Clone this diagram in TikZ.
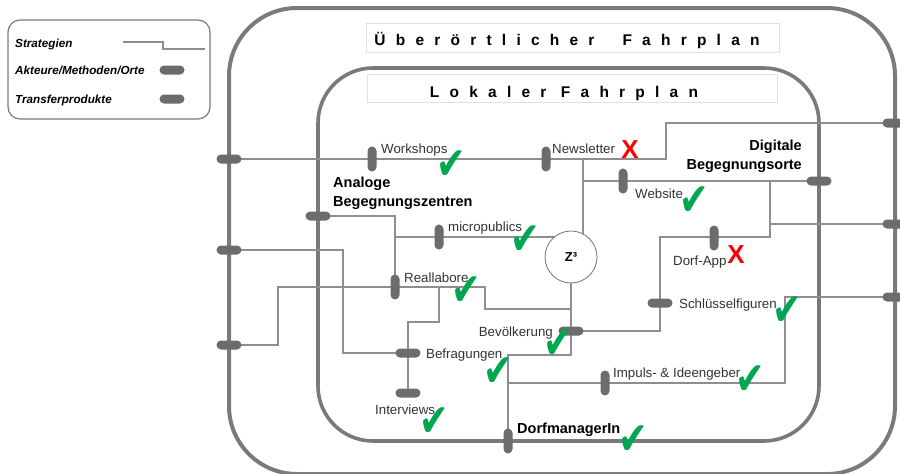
\documentclass[tikz,border=0pt]{standalone}
\usepackage{fontspec}
\setmainfont{Liberation Sans}
\newfontfamily\symfont{DejaVu Sans}
\newfontfamily\spacedfont[LetterSpace=66]{Liberation Sans}
\usetikzlibrary{backgrounds}

\definecolor{linegray}{HTML}{8E8E8E}
\definecolor{framegray}{HTML}{7A7A7A}
\definecolor{pillgray}{HTML}{6C6C6C}
\definecolor{labelgray}{HTML}{333333}
\definecolor{okgreen}{RGB}{0,166,81}
\definecolor{nored}{RGB}{250,0,0}

\newcommand{\haken}{\scalebox{0.93}[1.2]{✔}}

\tikzset{
  strat/.style={linegray, line width=2.2pt},
  outerframe/.style={framegray, line width=4pt, rounded corners=68pt},
  innerframe/.style={framegray, line width=3.6pt, rounded corners=55pt},
  hpill/.style={fill=pillgray, rectangle, rounded corners=4.5pt, minimum width=25pt, minimum height=9pt, inner sep=0pt},
  vpill/.style={hpill, minimum width=9pt, minimum height=25pt},
  lbl/.style={anchor=base west, inner sep=0pt, text=labelgray, font=\fontsize{13.3}{15}\selectfont},
  ortlbl/.style={inner sep=0pt, font=\fontsize{14.5}{19}\selectfont\bfseries},
  titlebox/.style={draw=black!12, fill=white, line width=0.8pt, inner sep=0pt, text depth=0pt,
    font=\spacedfont\fontsize{15.5}{17}\selectfont\bfseries},
  chk/.style={text=okgreen, inner sep=0pt, font=\symfont\fontsize{38}{38}\selectfont},
  nix/.style={text=nored, inner sep=0pt, font=\fontsize{26}{26}\selectfont\bfseries},
  legtxt/.style={anchor=base west, inner sep=0pt, font=\fontsize{11.7}{13}\selectfont\bfseries\itshape},
}

\begin{document}
\begin{tikzpicture}[x=1pt, y=-1pt]
\useasboundingbox (0,0) rectangle (900,474);

% Legende
\draw[framegray, line width=1.2pt, rounded corners=12pt] (8,20) rectangle (210,119);
\node[legtxt] (leg-str) at (15,47) {Strategien};
\node[legtxt] (leg-akt) at (15,74) {Akteure/Methoden/Orte};
\node[legtxt] (leg-tp) at (15,103) {Transferprodukte};
\node[hpill] (leg-p1) at (172,70) {};
\node[hpill] (leg-p2) at (172,99) {};
\coordinate (leg-s) at (123,42);
\coordinate (leg-e) at (205,49);
\draw[linegray, line width=1.5pt] (leg-s) -- ++(40,0) |- (leg-e);

% Fahrplan-Titel
\node[titlebox, minimum width=413pt, minimum height=29pt, text height=14pt] (t-ueber) at (573,38)
  {Überörtlicher\hspace{28pt}Fahrplan\hspace{12pt}\mbox{}};
\node[titlebox, minimum width=410pt, minimum height=28pt, text height=18pt] (t-lokal) at (572,88)
  {Lokaler Fahrplan\hspace{16pt}\mbox{}};

% Haltestellen
\foreach \n/\x/\y in {oL1/229/159, oL2/229/250, oL3/229/345, oR1/895/123, oR2/895/224, oR3/895/297,
  iL/318/216, iR/819/181, p-bef/408/353, p-int/408/393, p-bev/571/331, p-sf/660/303} {
  \node[hpill] (\n) at (\x,\y) {};
}
\foreach \n/\x/\y in {iB/508/441, p-ws/372/159, p-nl/546/159, p-web/623/181, p-mp/439/237,
  p-rl/395/287, p-app/714/238, p-imp/605/383} {
  \node[vpill] (\n) at (\x,\y) {};
}
\node[circle, draw=black!55, line width=0.8pt, fill=white, minimum size=52pt, inner sep=0pt,
  font=\fontsize{13}{13}\selectfont\bfseries] (z3) at (571,257) {Z³};

% Beschriftungen
\node[lbl] (l-ws) at (381,153) {Workshops};
\node[lbl] (l-nl) at (552,153) {Newsletter};
\node[lbl] (l-web) at (635,198) {Website};
\node[lbl] (l-mp) at (448,231) {micropublics};
\node[lbl] (l-rl) at (404,282) {Reallabore};
\node[lbl] (l-app) at (673,265) {Dorf-App};
\node[lbl] (l-sf) at (679,308) {Schlüsselfiguren};
\node[lbl, anchor=base east] (l-bev) at (553,336) {Bevölkerung};
\node[lbl] (l-bef) at (426,358) {Befragungen};
\node[lbl] (l-int) at (375,414) {Interviews};
\node[lbl] (l-imp) at (613,377) {Impuls- \& Ideengeber};
\node[ortlbl, anchor=base west] (l-dm) at (517,433) {DorfmanagerIn};
\node[ortlbl, anchor=base west, align=left] (l-ana) at (333,206) {Analoge\\Begegnungszentren};
\node[ortlbl, anchor=base east, align=right] (l-dig) at (802,169) {Digitale\\Begegnungsorte};

\begin{scope}[on background layer]
% Rahmen
\draw[outerframe] (229,8) rectangle (895,474);
\draw[innerframe] (318,68) rectangle (819,441);
% Linien
\draw[strat] (oL1.center) -- (p-nl.center) -- ++(120,0) |- (oR1.center);
\coordinate (nl-j) at (583,159);
\draw[strat] (nl-j) -- (nl-j |- z3.center);
\draw[strat] (nl-j |- iR) -- (iR.center);
\coordinate (dg-j) at (770,181);
\draw[strat] (dg-j) -- ++(0,56) -| (p-sf.center) |- (p-bev.center);
\draw[strat] (dg-j |- oR2) -- (oR2.center);
\draw[strat] (iL.center) -| (p-rl.center);
\draw[strat] (p-rl |- p-mp) -- (z3.center |- p-mp);
\draw[strat] (oL3.center) -| (278,287) -- (p-rl.center) -- (485,287) |- (571,309);
\draw[strat] (439,287) |- (408,322) -- (p-int.center);
\draw[strat] (oL2.center) -| (343,353) -- (p-bef.center);
\draw[strat] (z3.center) -- (p-bev.center) |- (508,355) -- (iB.center);
\draw[strat] (iB |- 0,383) -- (p-imp.center) -- (785,383) |- (oR3.center);
\end{scope}

% Bewertung
\foreach \n/\x/\y in {ws/451/165, mp/525/240, web/694/201, rl/466/291, bev/558/344,
  bef/498/372, int/434/422, sf/787/311, imp/750/380, dm/633/440} {
  \node[chk] (ok-\n) at (\x,\y) {\haken};
}
\node[nix] (no-nl) at (630,150) {X};
\node[nix] (no-app) at (736,255) {X};
\end{tikzpicture}
\end{document}
